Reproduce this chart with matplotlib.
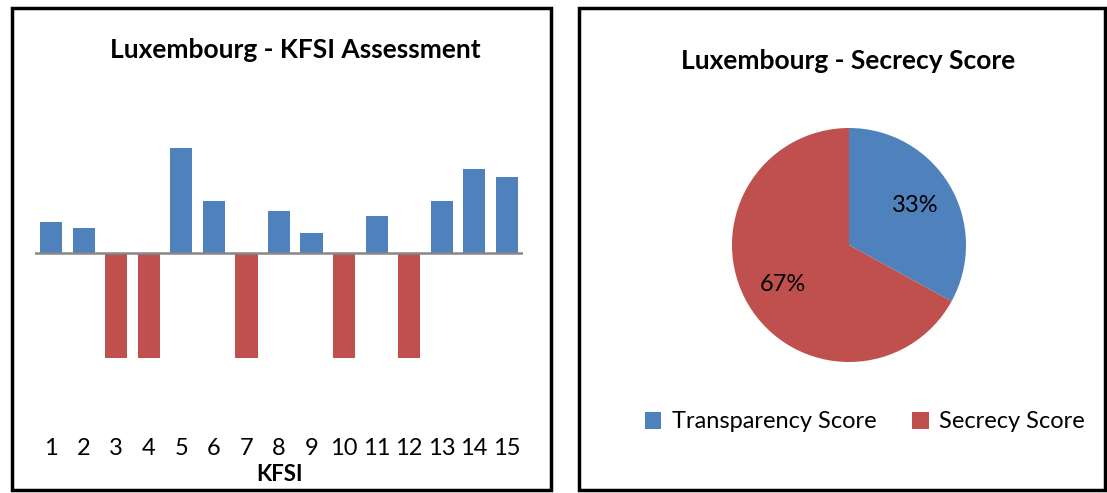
import matplotlib
matplotlib.use("Agg")
import matplotlib.pyplot as plt
from matplotlib.patches import Rectangle, Patch

plt.rcParams['font.family'] = ['Lato', 'DejaVu Sans']

# ---- data ----
kfsi_labels = [str(i) for i in range(1, 16)]
kfsi_values = [0.29, 0.24, -1, -1, 1.0, 0.49, -1, 0.40, 0.19, -1, 0.35, -1, 0.49, 0.80, 0.72]
pie_labels = ["Transparency Score", "Secrecy Score"]
pie_values = [33, 67]

BLUE = "#4F81BD"
RED = "#C0504D"

W, H = 1107, 493
fig = plt.figure(figsize=(W / 100, H / 100), dpi=100)

def px_rect(x0, y0, x1, y1):
    return [x0 / W, 1 - y1 / H, (x1 - x0) / W, (y1 - y0) / H]

# panel frames
for (x0, y0, x1, y1) in [(12, 8, 551, 490), (579, 8, 1105, 490)]:
    fig.patches.append(Rectangle((x0 / W, 1 - y1 / H), (x1 - x0) / W, (y1 - y0) / H,
                                 transform=fig.transFigure, fill=False,
                                 edgecolor="black", linewidth=2.5))

# ---- bar chart ----
ax = fig.add_axes(px_rect(35, 95, 523, 435))
x = list(range(1, 16))
colors = [BLUE if v >= 0 else RED for v in kfsi_values]
ax.bar(x, kfsi_values, width=0.68, color=colors)
ax.axhline(0, color="#878787", linewidth=1.8)
ax.set_xlim(0.5, 15.5)
ax.set_ylim(-1.73, 1.5)
ax.set_yticks([])
ax.set_xticks(x)
ax.set_xticklabels(kfsi_labels, fontsize=17)
ax.tick_params(axis="x", length=0, pad=2)
for s in ax.spines.values():
    s.set_visible(False)
ax.set_xlabel("KFSI", fontsize=16, fontweight="bold", labelpad=4)
fig.text(295 / W, 1 - 50 / H, "Luxembourg - KFSI Assessment", ha="center", va="center",
         fontsize=19, fontweight="bold")

# ---- pie chart ----
r = 117
cx, cy = 849, 245
axp = fig.add_axes(px_rect(cx - r, cy - r, cx + r, cy + r))
wedges, texts, autotexts = axp.pie(pie_values, colors=[BLUE, RED], startangle=90,
                                   counterclock=False, autopct="%d%%", pctdistance=0.66,
                                   textprops=dict(fontsize=17, color="black"),
                                   radius=1.0)
axp.set_xlim(-1, 1)
axp.set_ylim(-1, 1)
axp.set_aspect("equal")
fig.text(848 / W, 1 - 61 / H, "Luxembourg - Secrecy Score", ha="center", va="center",
         fontsize=19, fontweight="bold")

handles = [Patch(facecolor=BLUE), Patch(facecolor=RED)]
fig.legend(handles, pie_labels, loc="center", bbox_to_anchor=(865 / W, 1 - 422 / H),
           ncol=2, frameon=False, fontsize=17, handlelength=0.7, handleheight=0.7,
           handletextpad=0.45, columnspacing=1.5)

fig.savefig("out.png", dpi=100)
